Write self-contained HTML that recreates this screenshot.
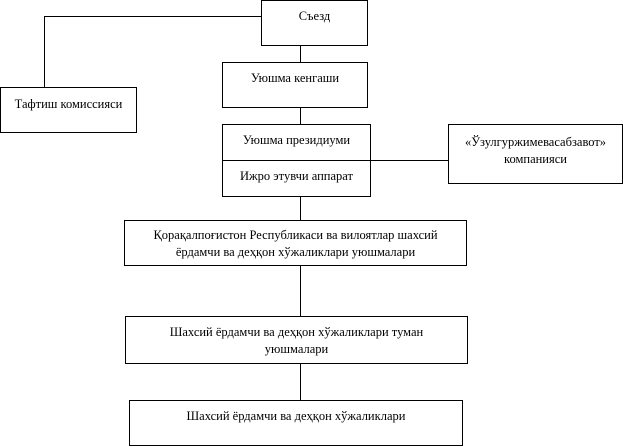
<!DOCTYPE html>
<html><head><meta charset="utf-8"><style>
body{margin:0;background:#fff;width:623px;height:447px;position:relative;overflow:hidden;font-family:"Liberation Serif",serif;font-size:12.5px;color:#000}
.b{position:absolute;border:1px solid #000;box-sizing:border-box;text-align:center;line-height:17px;background:#fff}
.l{position:absolute;background:#000}
</style></head><body>
<div class="l" style="left:44px;top:16px;width:218px;height:1px"></div>
<div class="l" style="left:44px;top:16px;width:1px;height:72px"></div>
<div class="l" style="left:300px;top:44px;width:1px;height:20px"></div>
<div class="l" style="left:300px;top:106px;width:1px;height:20px"></div>
<div class="l" style="left:369px;top:160px;width:80px;height:1px"></div>
<div class="l" style="left:300px;top:195px;width:1px;height:27px"></div>
<div class="l" style="left:300px;top:264px;width:1px;height:54px"></div>
<div class="l" style="left:300px;top:363px;width:1px;height:38px"></div>

<div class="b" style="left:261px;top:0;width:107px;height:46px;padding-top:7px">Съезд</div>
<div class="b" style="left:0;top:87px;width:137px;height:46px;padding-top:8px">Тафтиш комиссияси</div>
<div class="b" style="left:222px;top:62px;width:146px;height:46px;padding-top:7px">Уюшма кенгаши</div>
<div class="b" style="left:222px;top:124px;width:149px;height:73px">
<div style="height:36px;border-bottom:1px solid #000;padding-top:7px;box-sizing:border-box">Уюшма президиуми</div>
<div style="padding-top:7px">Ижро этувчи аппарат</div></div>
<div class="b" style="left:448px;top:124px;width:175px;height:60px;padding-top:9px">«Ўзулгуржимевасабзавот»<br>компанияси</div>
<div class="b" style="left:124px;top:220px;width:343px;height:46px;padding-top:6px">Қорақалпоғистон Республикаси ва вилоятлар шахсий<br>ёрдамчи ва деҳқон хўжаликлари уюшмалари</div>
<div class="b" style="left:125px;top:316px;width:343px;height:48px;padding-top:7px">Шахсий ёрдамчи ва деҳқон хўжаликлари туман<br>уюшмалари</div>
<div class="b" style="left:129px;top:400px;width:334px;height:46px;padding-top:7px">Шахсий ёрдамчи ва деҳқон хўжаликлари</div>
</body></html>
